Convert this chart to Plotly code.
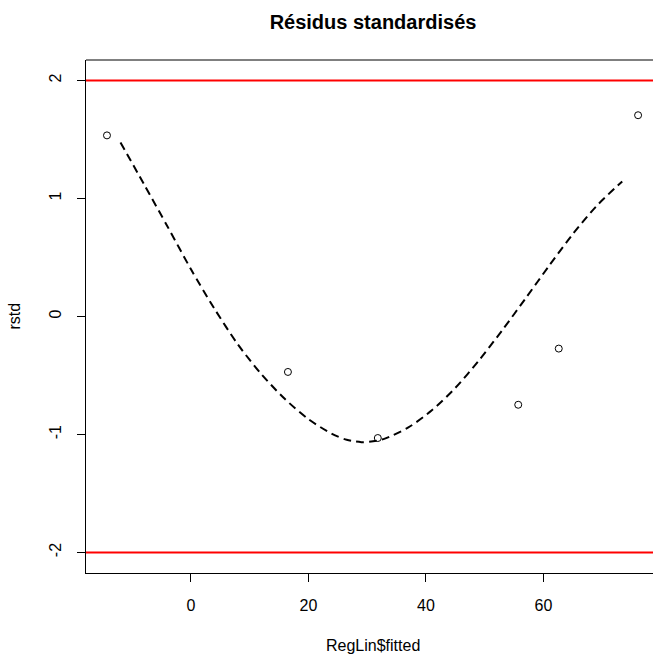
import plotly.graph_objects as go

# Observed points (fitted values vs standardized residuals)
fitted = [-14.3, 16.5, 31.8, 55.7, 62.6, 76.1]
rstd = [1.535, -0.47, -1.03, -0.748, -0.272, 1.706]

# Smoothed dashed curve
curve_x = [-12, -8, -4, 0, 4, 8, 12, 16, 20, 24, 26.5, 29, 31, 33, 37, 41, 45, 49,
           53, 57, 61, 65, 69, 73.4]
curve_y = [1.475, 1.121, 0.763, 0.40, 0.065, -0.238, -0.49, -0.70, -0.87, -0.995,
           -1.045, -1.065, -1.058, -1.035, -0.94, -0.795, -0.605, -0.373, -0.115,
           0.157, 0.433, 0.699, 0.935, 1.145]

# Reference lines
hlines = [-2, 2]

x_ticks = [0, 20, 40, 60]
y_ticks = [-2, -1, 0, 1, 2]
y_tick_labels = ["-2", "-1", "0", "1", "2"]

FONT = "Liberation Sans, Arial, Helvetica, sans-serif"

fig = go.Figure()
fig.add_trace(go.Scatter(x=fitted, y=rstd, mode="markers",
                         marker=dict(symbol="circle-open", size=7, color="black",
                                     line=dict(width=1, color="black")),
                         showlegend=False))
fig.add_trace(go.Scatter(x=curve_x, y=curve_y, mode="lines", line_shape="spline",
                         line=dict(color="black", width=2, dash="8px,5px", smoothing=0.8),
                         showlegend=False))

for h in hlines:
    fig.add_shape(type="line", xref="paper", yref="y", x0=0, x1=1, y0=h, y1=h,
                  line=dict(color="red", width=2))

# top border of the box (right side is outside the picture)
fig.add_shape(type="line", xref="paper", yref="paper", x0=0, x1=1, y0=1, y1=1,
              line=dict(color="black", width=1))

fig.update_layout(
    width=653, height=654,
    margin=dict(l=86, r=0, t=60, b=81),
    paper_bgcolor="white", plot_bgcolor="white",
    font=dict(family=FONT, size=16, color="black"),
    title=dict(text="<b>Résidus standardisés</b>", x=(373 - 86) / 567, xref="paper",
               y=1 - 22 / 654, yref="container", xanchor="center", yanchor="middle",
               font=dict(size=20, family=FONT, color="black")),
    xaxis=dict(range=[-17.87, 78.64], tickvals=x_ticks, ticks="outside", ticklen=8,
               tickwidth=1, tickcolor="black", showline=True, linecolor="black",
               linewidth=1, showgrid=False, zeroline=False,
               ticklabelstandoff=10, tickfont=dict(size=16)),
    yaxis=dict(range=[-2.174, 2.174], tickvals=y_ticks, ticktext=y_tick_labels,
               ticks="outside", ticklen=8,
               tickwidth=1, tickcolor="black", showline=True, linecolor="black",
               linewidth=1, showgrid=False, zeroline=False, tickangle=-90,
               ticklabelstandoff=10, tickfont=dict(size=16)),
    annotations=[
        dict(text="RegLin$fitted", xref="paper", yref="paper", x=(373 - 86) / 567,
             y=(573 - 645) / 513, xanchor="center", yanchor="middle", showarrow=False,
             font=dict(size=16)),
        dict(text="rstd", xref="paper", yref="paper", x=(14 - 86) / 567,
             y=0.5, xanchor="center", yanchor="middle", showarrow=False,
             textangle=-90, font=dict(size=16)),
    ],
)

fig.write_html("out.html", config={"displayModeBar": False},
               post_script="document.body.style.margin='0px';document.body.style.overflow='hidden';")
